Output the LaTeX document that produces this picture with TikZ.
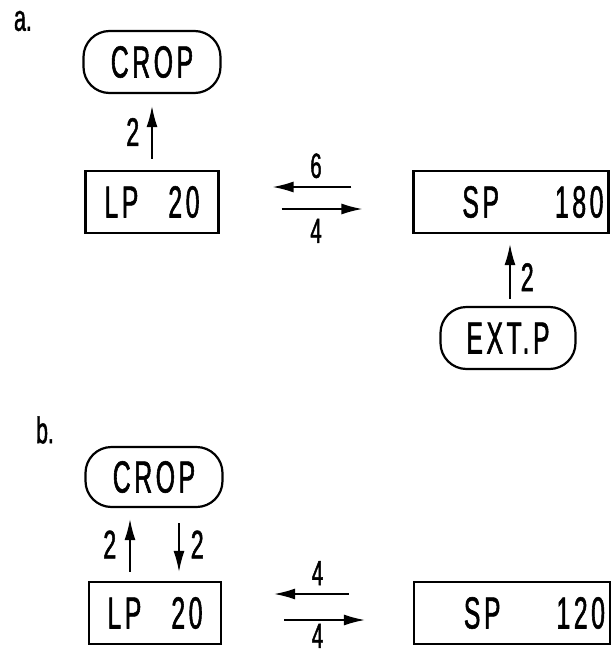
\documentclass[tikz,border=0pt]{standalone}
\usepackage{fontspec}
\setmainfont{Liberation Sans}
\newfontfamily\din[FakeStretch=0.55,FakeBold=1.2,LetterSpace=8]{Liberation Sans}
\newfontfamily\dinnum[FakeStretch=0.58,FakeBold=1.2]{Liberation Sans}
\usetikzlibrary{arrows.meta,positioning}

\begin{document}
\begin{tikzpicture}[x=1pt,y=-1pt,
			box/.style={draw,line width=2.2pt,minimum height=62pt,font=\din\fontsize{45}{48}\selectfont},
			pill/.style={box,rounded corners=26pt,minimum width=137pt},
			flow/.style={line width=1.6pt,-{Latex[length=21pt,width=11pt]}},
			num/.style={font=\dinnum\fontsize{40}{44}\selectfont,inner sep=2pt},
			lbl/.style={font=\dinnum\fontsize{35}{38}\selectfont,inner sep=2pt},
			tag/.style={font=\dinnum\fontsize{37}{40}\selectfont,inner sep=0.5pt}]
			\useasboundingbox (0,0) rectangle (611,651);
			% a.
			\node[tag] (taga) at (23,21) {a.};
			\node[pill] (cropa) at (152,62) {CROP};
			\node[box,minimum width=133pt] (lpa) at (152,202) {LP\hspace{30pt}20};
			\node[box,text width=185pt,align=right,inner xsep=5pt] (spa) at (511,202) {SP\hspace{56pt}180};
			\node[pill,minimum width=135pt] (extp) at (508,338) {EXT.P};
			\draw[flow,shorten <=11pt,shorten >=12pt] (lpa) -- node[num,left=10pt]{2} (cropa);
			\draw[flow,shorten <=61pt,shorten >=53pt] ([yshift=15pt]spa.west) -- node[lbl,above=6pt]{6} ([yshift=15pt]lpa.east);
			\draw[flow,shorten <=62pt,shorten >=50pt] ([yshift=-7pt]lpa.east) -- node[lbl,below=7pt]{4} ([yshift=-7pt]spa.west);
			\draw[flow,shorten <=7pt,shorten >=10pt] ([xshift=2pt]extp.north) -- node[num,pos=.4,right=8pt]{2} ([xshift=2pt]extp.north |- spa.south);
			% b.
			\node[tag] (tagb) at (45,430) {b.};
			\node[pill,minimum height=60pt] (cropb) at (154,477) {CROP};
			\node[box,minimum width=132pt] (lpb) at (155,613) {LP\hspace{30pt}20};
			\node[box,text width=186pt,align=right,inner xsep=5pt] (spb) at (512,613) {SP\hspace{56pt}120};
			\draw[flow,shorten <=9pt,shorten >=11pt] ([xshift=-25pt]lpb.north) -- node[num,left=11pt]{2} ([xshift=-25pt]lpb.north |- cropb.south);
			\draw[flow,shorten <=15pt,shorten >=9pt] ([xshift=24pt]lpb.north |- cropb.south) -- node[num,right=9pt]{2} ([xshift=24pt]lpb.north);
			\draw[flow,shorten <=64pt,shorten >=52pt] ([yshift=19pt]spb.west) -- node[lbl,above=6pt]{4} ([yshift=19pt]lpb.east);
			\draw[flow,shorten <=62pt,shorten >=48pt] ([yshift=-7pt]lpb.east) -- node[lbl,below=1pt]{4} ([yshift=-7pt]spb.west);
\end{tikzpicture}
\end{document}
